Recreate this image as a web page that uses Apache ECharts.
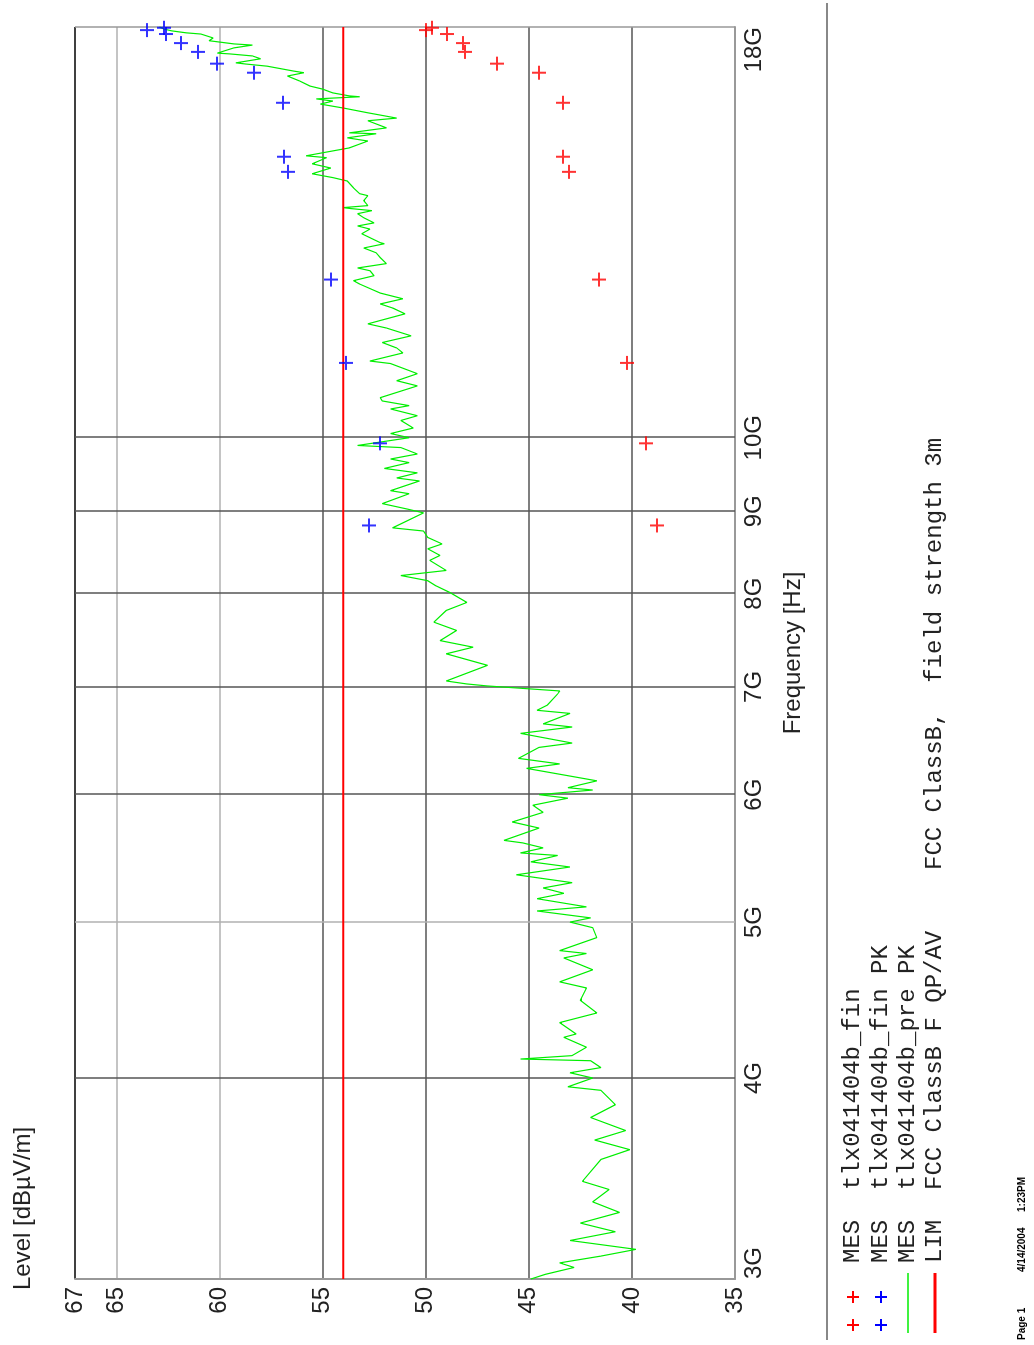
<!DOCTYPE html>
<html>
<head>
<meta charset="utf-8">
<script src="https://cdn.jsdelivr.net/npm/echarts@6/dist/echarts.min.js"></script>
</head>
<body style="margin:0; width:1034px; height:1345px; overflow:hidden; background:#fff">
<!-- the plot is drawn in landscape and turned a quarter left, like the printed page -->
<div id="container" style="position:absolute; left:0; top:0; width:1345px; height:1034px; transform-origin:0 0; transform:translate(0,1345px) rotate(-90deg)"></div>
<script type="text/javascript">
// pre scan, peak detector (frequency in GHz, level in dBuV/m)
var freqGHz = [
    3.00, 3.02, 3.05, 3.07, 3.10, 3.13, 3.17, 3.21, 3.25, 3.30,
    3.35, 3.41, 3.45, 3.56, 3.61, 3.66, 3.71, 3.78, 3.85, 3.93,
    3.95, 4.00, 4.03, 4.06, 4.10, 4.11, 4.13, 4.18, 4.24, 4.26,
    4.33, 4.39, 4.47, 4.55, 4.59, 4.67, 4.75, 4.78, 4.80, 4.89,
    4.96, 5.00, 5.03, 5.08, 5.11, 5.17, 5.21, 5.25, 5.29, 5.35,
    5.41, 5.45, 5.50, 5.52, 5.56, 5.60, 5.62, 5.72, 5.77, 5.85,
    5.91, 5.97, 6.00, 6.04, 6.06, 6.12, 6.23, 6.27, 6.32, 6.42,
    6.46, 6.55, 6.61, 6.64, 6.74, 6.77, 6.82, 6.93, 6.96, 7.01,
    7.03, 7.06, 7.22, 7.34, 7.41, 7.48, 7.59, 7.68, 7.81, 7.90,
    8.01, 8.09, 8.15, 8.21, 8.27, 8.39, 8.45, 8.53, 8.59, 8.67,
    8.75, 8.79, 8.98, 9.03, 9.10, 9.23, 9.27, 9.40, 9.44, 9.51,
    9.57, 9.65, 9.70, 9.77, 9.86, 9.89, 10.00, 10.06, 10.14, 10.25,
    10.32, 10.42, 10.47, 10.54, 10.59, 10.77, 10.85, 10.96, 11.12, 11.16,
    11.29, 11.37, 11.46, 11.57, 11.70, 11.77, 11.94, 12.04, 12.11, 12.20,
    12.30, 12.46, 12.52, 12.61, 12.70, 12.75, 12.83, 12.94, 13.03, 13.12,
    13.20, 13.22, 13.39, 13.48, 13.54, 13.60, 13.70, 13.78, 13.84, 13.88,
    13.90, 13.94, 14.04, 14.14, 14.18, 14.30, 14.44, 14.51, 14.59, 14.71,
    14.80, 14.93, 14.97, 15.14, 15.29, 15.36, 15.45, 15.47, 15.58, 15.74,
    15.80, 15.92, 16.03, 16.12, 16.19, 16.24, 16.29, 16.31, 16.38, 16.47,
    16.54, 16.66, 16.78, 16.86, 16.90, 17.02, 17.07, 17.10, 17.20, 17.27,
    17.32, 17.34, 17.47, 17.54, 17.57, 17.65, 17.72, 17.82, 17.85, 17.90,
    17.95, 18.00];
var levelPrePK = [
    44.9, 44.2, 42.8, 43.5, 41.5, 39.8, 43.0, 40.8, 42.5, 40.6,
    41.9, 41.1, 42.4, 41.5, 40.1, 41.8, 40.3, 42.0, 40.8, 41.5,
    43.1, 41.9, 43.0, 41.5, 42.0, 45.4, 42.9, 42.2, 43.3, 42.7,
    43.5, 41.7, 42.5, 42.2, 43.5, 41.9, 43.3, 42.2, 43.5, 41.7,
    41.9, 43.0, 42.0, 44.6, 42.2, 44.6, 43.3, 44.3, 42.9, 45.6,
    43.0, 44.9, 43.6, 45.4, 44.3, 45.3, 46.2, 44.5, 45.8, 44.3,
    44.8, 43.1, 44.5, 41.9, 43.1, 41.7, 45.1, 43.5, 45.5, 44.5,
    42.9, 45.4, 42.9, 44.3, 43.0, 44.6, 44.1, 43.6, 43.5, 47.0,
    48.0, 49.0, 47.0, 49.0, 47.7, 49.3, 48.5, 49.6, 49.0, 48.0,
    48.8, 49.5, 49.9, 51.2, 49.0, 49.8, 49.3, 49.9, 49.2, 49.9,
    50.1, 51.6, 50.1, 50.9, 52.1, 50.8, 51.7, 50.3, 51.4, 50.4,
    52.0, 50.8, 51.7, 50.4, 51.2, 53.3, 50.8, 51.7, 50.6, 51.2,
    50.4, 51.7, 50.8, 52.1, 52.2, 50.4, 51.4, 50.4, 51.7, 52.7,
    51.1, 51.4, 52.1, 50.7, 51.9, 52.8, 51.0, 51.6, 52.2, 51.1,
    52.2, 53.2, 53.5, 52.5, 52.7, 53.3, 51.9, 52.2, 52.4, 53.0,
    52.0, 52.2, 53.1, 52.7, 53.3, 52.5, 53.0, 53.3, 52.6, 53.6,
    54.0, 52.8, 53.0, 52.8, 53.2, 53.5, 53.8, 54.5, 55.5, 54.6,
    55.5, 54.8, 55.8, 53.7, 52.8, 53.8, 52.4, 53.7, 51.9, 52.8,
    51.4, 52.8, 54.0, 55.1, 54.5, 55.3, 53.2, 53.7, 54.5, 55.0,
    55.6, 56.1, 56.7, 55.9, 56.4, 57.7, 58.7, 59.2, 58.0, 58.4,
    59.5, 60.1, 59.3, 58.4, 59.3, 60.5, 60.3, 60.9, 61.6, 62.3,
    62.7, 62.9];

// final measurements
var finFreqGHz = [8.82, 9.92, 11.13, 12.54, 14.63, 14.95, 16.15, 16.86, 17.08, 17.37, 17.59, 17.82, 17.92, 17.98];
var finPK = [52.75, 52.21, 53.86, 54.59, 56.67, 56.87, 56.92, 58.32, 60.12, 61.04, 61.86, 62.59, 63.51, 62.68];
var finAV = [38.78, 39.32, 40.24, 41.59, 43.05, 43.34, 43.34, 44.50, 46.54, 48.09, 48.19, 48.96, 49.98, 49.69];

// FCC class B limit
var limitFreqGHz = [3, 18];
var limitLevel = [54, 54];

var freqTicks = [3, 4, 5, 6, 7, 8, 9, 10, 18];
var freqTickLabels = ['3G', '4G', '5G', '6G', '7G', '8G', '9G', '10G', '18G'];

var legendRows = [
    ['MES', 'tlx041404b_fin'],
    ['MES', 'tlx041404b_fin PK'],
    ['MES', 'tlx041404b_pre PK'],
    ['LIM', 'FCC ClassB F QP/AV']
];

function pairs(xs, ys) {
    return xs.map(function (x, i) { return [x, ys[i]]; });
}

var plusPath = 'path://M6,0H8V6H14V8H8V14H6V8H0V6H6Z';
var sans = '"Liberation Sans", Arial, sans-serif';
var mono = '"Liberation Mono", "Courier New", monospace';

var gridLines = freqTicks.map(function (f, i) {
    var c = '#555';
    if (f === 5) c = '#b0b0b0';
    if (f === 3 || f === 18) c = '#999';
    var lab = {};
    if (f === 3) lab = {align: 'left'};
    if (f === 18) lab = {align: 'right'};
    return {xAxis: f, name: freqTickLabels[i], lineStyle: {color: c}, label: lab};
});

function plusMark(cx, cy, color) {
    return [
        {type: 'line', shape: {x1: cx - 6, y1: cy, x2: cx + 6, y2: cy}, style: {stroke: color, lineWidth: 2}},
        {type: 'line', shape: {x1: cx, y1: cy - 6, x2: cx, y2: cy + 6}, style: {stroke: color, lineWidth: 2}}
    ];
}

var rowY = [853, 881, 908, 935];
var graphics = [
    {type: 'line', shape: {x1: 5, y1: 827, x2: 1342, y2: 827}, style: {stroke: '#888', lineWidth: 2}}
];
graphics = graphics.concat(plusMark(20, rowY[0], '#ff0000'), plusMark(48, rowY[0], '#ff0000'));
graphics = graphics.concat(plusMark(20, rowY[1], '#0000ff'), plusMark(48, rowY[1], '#0000ff'));
graphics.push({type: 'line', shape: {x1: 12, y1: rowY[2], x2: 72, y2: rowY[2]}, style: {stroke: '#00ee00', lineWidth: 1.5}});
graphics.push({type: 'line', shape: {x1: 12, y1: rowY[3], x2: 72, y2: rowY[3]}, style: {stroke: '#ff0000', lineWidth: 3}});
legendRows.forEach(function (r, i) {
    graphics.push({type: 'text', x: 82, y: rowY[i], style: {text: r[0], font: '24px ' + mono, fill: '#222', verticalAlign: 'middle'}});
    graphics.push({type: 'text', x: 155, y: rowY[i], style: {text: r[1], font: '24px ' + mono, fill: '#222', verticalAlign: 'middle'}});
});
graphics.push({type: 'text', x: 475, y: rowY[3], style: {text: 'FCC ClassB,  field strength 3m', font: '24px ' + mono, fill: '#222', verticalAlign: 'middle'}});
// print footer
graphics.push({type: 'text', x: 5, y: 1022, style: {text: 'Page 1', font: 'bold 10px ' + sans, fill: '#000', verticalAlign: 'middle'}});
graphics.push({type: 'text', x: 73, y: 1022, style: {text: '4/14/2004', font: 'bold 10px ' + sans, fill: '#000', verticalAlign: 'middle'}});
graphics.push({type: 'text', x: 133, y: 1022, style: {text: '1:23PM', font: 'bold 10px ' + sans, fill: '#000', verticalAlign: 'middle'}});

var dom = document.getElementById('container');
var myChart = echarts.init(dom, null, {width: 1345, height: 1034});
var option = {
    backgroundColor: '#fff',
    animation: false,
    textStyle: {fontFamily: sans},
    grid: {left: 66, right: 27, top: 75, bottom: 299},
    xAxis: {
        type: 'log',
        logBase: 10,
        min: 3,
        max: 18,
        name: 'Frequency [Hz]',
        nameLocation: 'middle',
        nameGap: 46,
        nameTextStyle: {fontSize: 24, color: '#222', fontFamily: sans},
        axisLine: {show: true, lineStyle: {color: '#999', width: 2}},
        axisTick: {show: false},
        axisLabel: {show: false},
        splitLine: {show: false}
    },
    yAxis: {
        type: 'value',
        min: 35,
        max: 67,
        interval: 5,
        name: 'Level [dB\u00b5V/m]',
        nameLocation: 'end',
        nameGap: 40,
        nameTextStyle: {fontSize: 24, color: '#222', fontFamily: sans, align: 'left', padding: [0, 0, 0, -11]},
        axisLine: {show: true, lineStyle: {color: '#999', width: 2}},
        axisTick: {show: false},
        axisLabel: {fontSize: 24, color: '#222', margin: 8, fontFamily: sans},
        splitLine: {show: true, lineStyle: {color: ['#999', '#555', '#555', '#555', '#555', '#b0b0b0', '#b0b0b0', '#000'], width: 1.5}}
    },
    series: [
        {
            name: 'MES tlx041404b_pre PK',
            type: 'line',
            data: pairs(freqGHz, levelPrePK),
            showSymbol: false,
            symbol: 'none',
            lineStyle: {color: '#00ee00', width: 1.2},
            z: 3,
            markLine: {
                silent: true,
                symbol: 'none',
                animation: false,
                lineStyle: {type: 'solid', width: 1.5},
                label: {show: true, position: 'start', distance: 7, formatter: '{b}', fontSize: 24, color: '#222', fontFamily: sans},
                data: gridLines,
                z: 1
            }
        },
        {
            name: 'LIM FCC ClassB F QP/AV',
            type: 'line',
            data: pairs(limitFreqGHz, limitLevel),
            symbol: 'none',
            lineStyle: {color: '#ff0000', width: 2},
            z: 4
        },
        {
            name: 'MES tlx041404b_fin PK',
            type: 'scatter',
            data: pairs(finFreqGHz, finPK),
            symbol: plusPath,
            symbolSize: 14,
            itemStyle: {color: '#0000ff'},
            z: 5
        },
        {
            name: 'MES tlx041404b_fin',
            type: 'scatter',
            data: pairs(finFreqGHz, finAV),
            symbol: plusPath,
            symbolSize: 14,
            itemStyle: {color: '#ff0000'},
            z: 5
        }
    ],
    graphic: graphics
};
myChart.setOption(option);
</script>
</body>
</html>
